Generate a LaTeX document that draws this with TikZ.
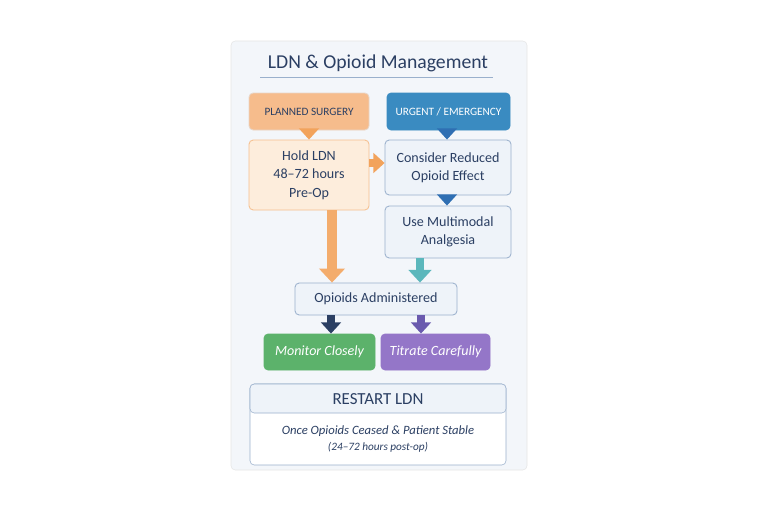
\documentclass[tikz,border=0pt]{standalone}
\usepackage{fontspec}
\setmainfont{Carlito}
\usetikzlibrary{arrows.meta,positioning}
\definecolor{navy}{HTML}{2B3F63}
\definecolor{panelbg}{HTML}{F3F6FA}
\definecolor{orangefill}{HTML}{F6BC8C}
\definecolor{orangelight}{HTML}{FDEDDC}
\definecolor{orangeline}{HTML}{F2A35C}
\definecolor{bluefill}{HTML}{3A8BC1}
\definecolor{blueline}{HTML}{2F6FB3}
\definecolor{softfill}{HTML}{EEF3F9}
\definecolor{softline}{HTML}{9AB0CC}
\definecolor{tealarrow}{HTML}{5BB7BC}
\definecolor{greenfill}{HTML}{5CB26B}
\definecolor{purplefill}{HTML}{9476C8}
\definecolor{purplearrow}{HTML}{6A5AAE}
\tikzset{
  box/.style={draw, rounded corners=3pt, line width=0.6pt, align=center, text=navy, inner sep=0pt},
  flow/.style={line width=5pt, -{Triangle[length=8pt,width=14pt]}},
}
\begin{document}
\begin{tikzpicture}[x=0.025cm,y=-0.025cm]
  \useasboundingbox (0,0) rectangle (768,512);
  % panel and title
  \draw[rounded corners=3pt, draw=black!10, fill=panelbg] (231,41) rectangle (527,470);
  \node[text=navy, font=\fontsize{14}{16}\selectfont] (title) at (378,63) {LDN \& Opioid Management};
  \draw[softline, line width=0.5pt] (260,77) -- (493,77);
  % top row
  \node[box, draw=orangefill!80!black!40, fill=orangefill, minimum width=120*0.025cm, minimum height=37*0.025cm,
        font=\fontsize{8}{9}\selectfont] (planned) at (309,111.5) {PLANNED SURGERY};
  \node[box, draw=bluefill, fill=bluefill, text=white, minimum width=123*0.025cm, minimum height=37*0.025cm,
        font=\fontsize{8}{9}\selectfont] (urgent) at (448.5,111.5) {URGENT / EMERGENCY};
  \node[box, draw=orangeline!70, fill=orangelight, minimum width=120*0.025cm, minimum height=70*0.025cm,
        font=\fontsize{10}{13}\selectfont] (hold) at (309,175) {Hold LDN\\48--72 hours\\Pre-Op};
  \node[box, draw=softline, fill=softfill, minimum width=126*0.025cm, minimum height=55*0.025cm,
        font=\fontsize{10}{13}\selectfont] (reduced) at (448,167.5) {Consider Reduced\\Opioid Effect};
  \node[box, draw=softline, fill=softfill, minimum width=126*0.025cm, minimum height=52*0.025cm,
        font=\fontsize{10}{13}\selectfont] (multi) at (448,232) {Use Multimodal\\Analgesia};
  \node[box, draw=softline, fill=softfill, minimum width=162*0.025cm, minimum height=32*0.025cm,
        font=\fontsize{10}{12}\selectfont] (opioids) at (376,299) {Opioids Administered};
  \node[box, draw=greenfill, fill=greenfill, text=white, minimum width=111*0.025cm, minimum height=36*0.025cm,
        font=\fontsize{10}{12}\selectfont\itshape] (monitor) at (319.5,352) {Monitor Closely};
  \node[box, draw=purplefill, fill=purplefill, text=white, minimum width=109*0.025cm, minimum height=36*0.025cm,
        font=\fontsize{10}{12}\selectfont\itshape] (titrate) at (435.5,352) {Titrate Carefully};
  % restart panel
  \draw[rounded corners=3pt, draw=softline, fill=white] (250,384) rectangle (506,465);
  \draw[rounded corners=3pt, draw=softline, fill=softfill] (250,413) -- (250,384) -- (506,384) -- (506,413) -- cycle;
  \node[text=navy, font=\fontsize{12}{14}\selectfont] (restart) at (378,399) {RESTART LDN};
  \node[text=navy, align=center, font=\fontsize{9}{12}\selectfont\itshape] (once) at (378,439)
       {Once Opioids Ceased \& Patient Stable\\{\fontsize{8}{10}\selectfont(24--72 hours post-op)}};
  % connectors
  \draw[flow, orangeline] (planned) -- (hold);
  \draw[flow, orangeline] (hold.east |- 0,163) -- (reduced.west |- 0,163);
  \draw[flow, blueline] (urgent.south -| 447,0) -- (reduced.north -| 447,0);
  \draw[flow, blueline] (reduced.south -| 447,0) -- (multi.north -| 447,0);
  \draw[flow, orangeline!90, line width=7pt, -{Triangle[length=10pt,width=18pt]}] (hold.south -| 332,0) -- (opioids.north -| 332,0);
  \draw[flow, tealarrow, line width=6pt, -{Triangle[length=9pt,width=16pt]}] (multi.south -| 420,0) -- (opioids.north -| 420,0);
  \draw[flow, navy] (opioids.south -| 331,0) -- (monitor.north -| 331,0);
  \draw[flow, purplearrow] (opioids.south -| 421,0) -- (titrate.north -| 421,0);
\end{tikzpicture}
\end{document}
